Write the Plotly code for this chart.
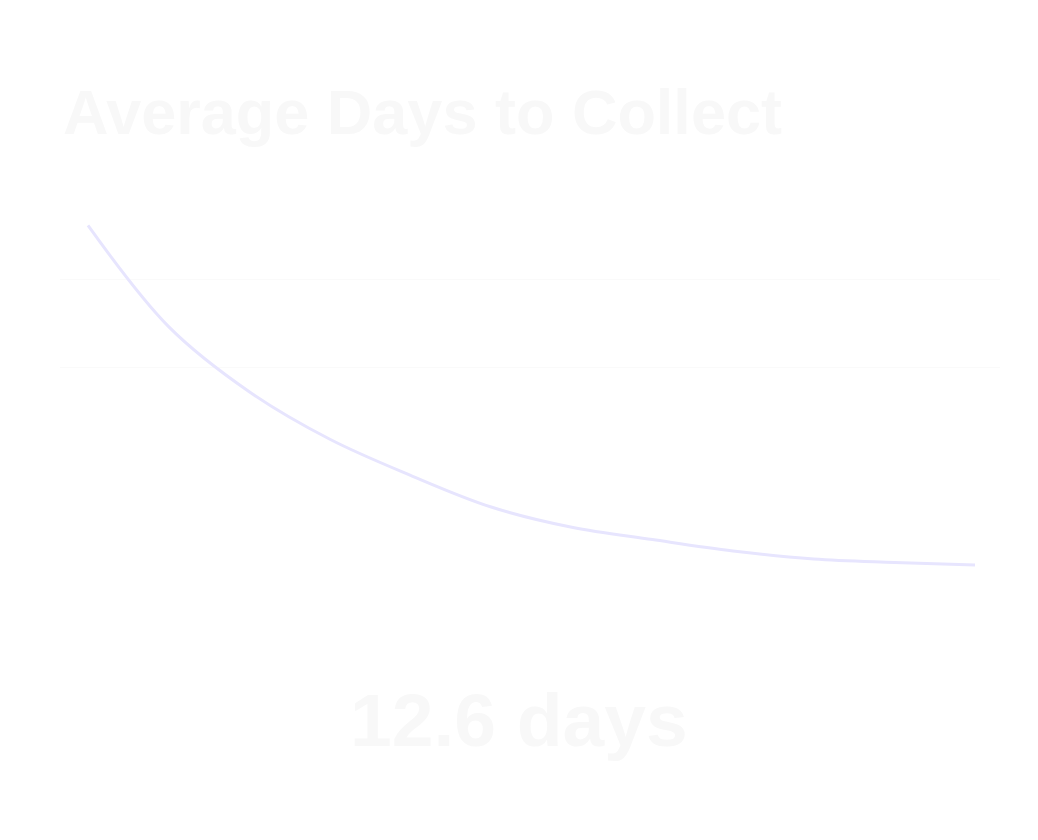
import plotly.graph_objects as go

# Data
months = ["Jan", "Feb", "Mar", "Apr", "May", "Jun", "Jul", "Aug", "Sep", "Oct", "Nov", "Dec"]
days_to_collect = [51.2, 39.7, 32.3, 26.9, 22.8, 19.2, 16.9, 15.5, 14.2, 13.3, 12.9, 12.6]
grid_values = [35, 45]
title_text = "Average Days to Collect"
latest_value = days_to_collect[-1]

fig = go.Figure()
fig.add_trace(go.Scatter(
    x=months,
    y=days_to_collect,
    mode="lines",
    line=dict(color="#e7e5fe", width=3, shape="spline", smoothing=1.0),
    hoverinfo="skip",
    showlegend=False,
))

fig.update_layout(
    width=1038,
    height=840,
    paper_bgcolor="#ffffff",
    plot_bgcolor="#ffffff",
    margin=dict(l=52, r=46, t=192, b=228),
    font=dict(family="Liberation Sans, Arial, sans-serif"),
    title=dict(
        text="<b>" + title_text + "</b>",
        x=55 / 1038,
        xanchor="left",
        y=1 - 104 / 840,
        yanchor="middle",
        font=dict(size=63, color="#f8f8f8", family="Liberation Sans, Arial, sans-serif"),
    ),
    xaxis=dict(
        type="category",
        range=[-0.347, 11.31],
        showgrid=False,
        showticklabels=False,
        zeroline=False,
        showline=False,
        ticks="",
    ),
    yaxis=dict(
        range=[6.36, 54.09],
        tickvals=grid_values,
        showticklabels=False,
        gridcolor="#fafafa",
        gridwidth=1,
        zeroline=False,
        showline=False,
        ticks="",
    ),
    annotations=[
        dict(
            text="<b>" + f"{latest_value} days" + "</b>",
            xref="paper",
            yref="paper",
            x=458.5 / 940,
            y=-100 / 420,
            xanchor="center",
            yanchor="middle",
            showarrow=False,
            font=dict(size=75, color="#f8f8f8", family="Liberation Sans, Arial, sans-serif"),
        )
    ],
)

fig.write_html("out.html")
